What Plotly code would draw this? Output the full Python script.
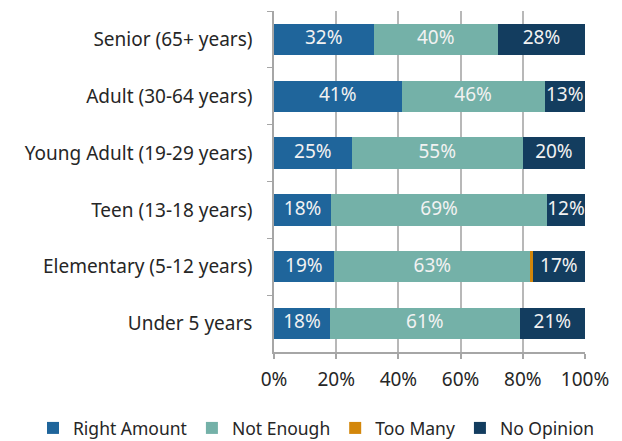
import plotly.graph_objects as go

categories = [
    "Senior (65+ years)",
    "Adult (30-64 years)",
    "Young Adult (19-29 years)",
    "Teen (13-18 years)",
    "Elementary (5-12 years)",
    "Under 5 years",
]
right_amount = [32, 41, 25, 18.4, 19.2, 18]
not_enough = [40, 46, 55, 69.4, 63.4, 61]
too_many = [0, 0, 0, 0, 0.6, 0]
no_opinion = [28, 13, 20, 12.2, 16.8, 21]

x_ticks = [0, 20, 40, 60, 80, 100]

series = [
    ("Right Amount", right_amount, "#1f659b", True),
    ("Not Enough", not_enough, "#74b1a8", True),
    ("Too Many", too_many, "#d3870b", False),
    ("No Opinion", no_opinion, "#133d5f", True),
]

fig = go.Figure()
left = [0] * len(categories)
for name, vals, color, show_text in series:
    fig.add_trace(go.Bar(
        y=categories,
        x=vals,
        name=name,
        orientation="h",
        marker={"color": color, "line": {"width": 0}},
        textposition="none",
        hoverinfo="x+name",
    ))
    # labels drawn as text marks so narrow segments keep full-size text
    if show_text:
        fig.add_trace(go.Scatter(
            y=categories,
            x=[l + v / 2 for l, v in zip(left, vals)],
            text=[f"{v:.0f}%" for v in vals],
            mode="text",
            textposition="middle center",
            textfont={"color": "#f2f2f2", "size": 19},
            showlegend=False,
            hoverinfo="skip",
            cliponaxis=False,
        ))
    left = [l + v for l, v in zip(left, vals)]

# page body adds 8px, so the figure is drawn 8px smaller
fig.update_layout(
    barmode="stack",
    bargap=0.45,
    width=614,
    height=433,
    paper_bgcolor="white",
    plot_bgcolor="white",
    font={"family": "Noto Sans", "color": "#262626", "size": 18},
    margin=dict(l=266, r=37, t=3, b=89, autoexpand=False),
    legend={
        "orientation": "h",
        "yanchor": "middle",
        "y": -0.223,
        "xanchor": "left",
        "x": -0.775,
        "font": {"size": 17.5},
        "traceorder": "normal",
        "itemwidth": 30,
    },
    xaxis={
        "range": [0, 100],
        "tickvals": x_ticks,
        "ticktext": [f"{t}%" for t in x_ticks],
        "tickfont": {"size": 19},
        "showgrid": True,
        "gridcolor": "#b8b8b8",
        "gridwidth": 1.5,
        "showline": True,
        "linecolor": "#a6a6a6",
        "linewidth": 1.5,
        "ticks": "outside",
        "ticklen": 5,
        "tickcolor": "#a6a6a6",
        "tickwidth": 1.5,
        "ticklabelstandoff": 4,
        "zeroline": False,
        "fixedrange": True,
    },
    yaxis={
        "autorange": "reversed",
        "showline": True,
        "linecolor": "#a6a6a6",
        "linewidth": 1.5,
        "ticks": "outside",
        "tickson": "boundaries",
        "ticklen": 5,
        "tickcolor": "#a6a6a6",
        "ticklabelstandoff": 16,
        "tickfont": {"size": 19},
        "fixedrange": True,
    },
)

fig.write_html("out.html")
